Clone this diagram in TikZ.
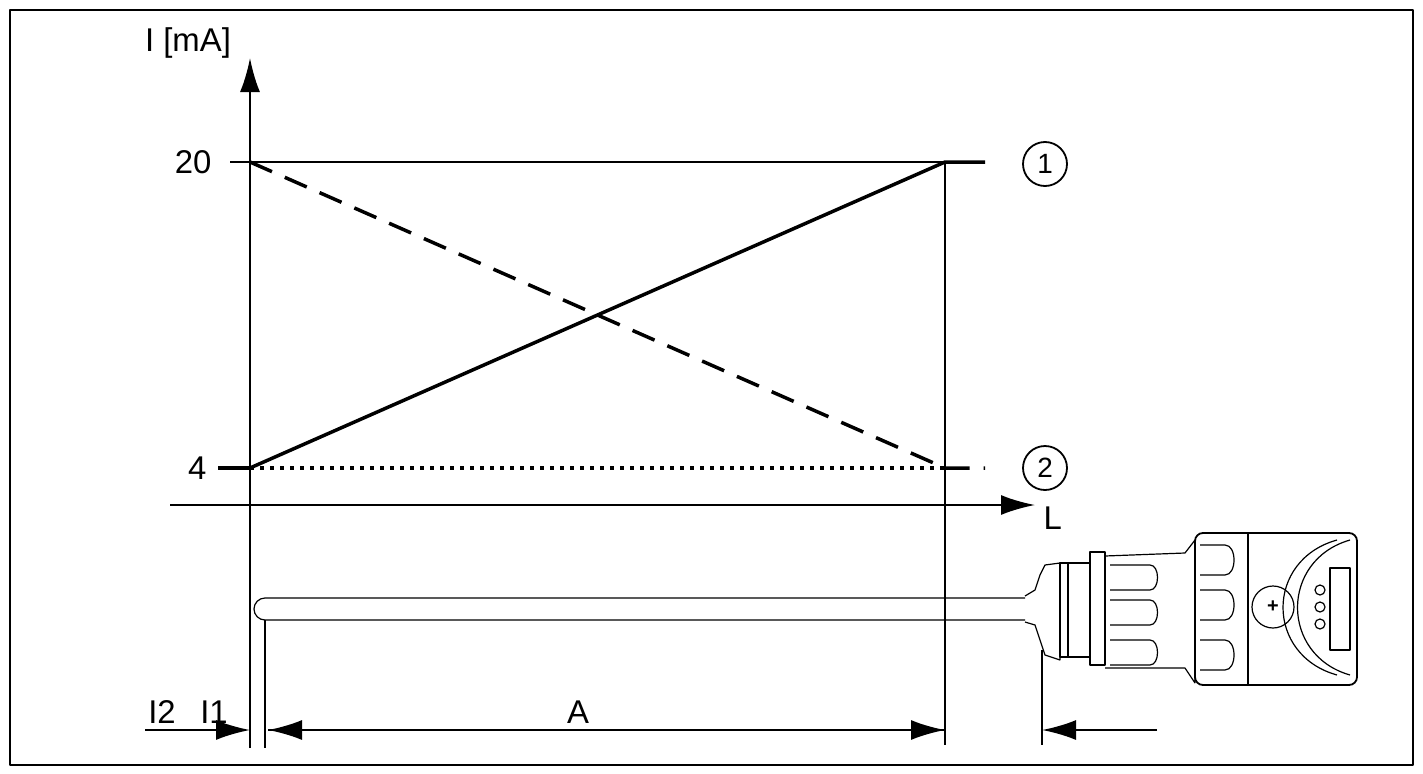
\documentclass[tikz,border=0pt]{standalone}
\usepackage{fontspec}
\setmainfont{Liberation Sans}
\usetikzlibrary{arrows,arrows.meta}
\begin{document}
\begin{tikzpicture}[x=1bp,y=-1bp,>=latex',line join=bevel,
  thin line/.style={line width=1.2bp},
  thick line/.style={line width=3.5bp},
  dim/.style={line width=2.2bp,-{Latex[length=34bp,width=20bp]}},
  lbl/.style={font=\fontsize{33}{35}\selectfont}]
\useasboundingbox (0,0) rectangle (1423,773);
\draw [line width=2bp] (10,10) rectangle (1413,765);

% Axes
\coordinate (O) at (250,505);
\coordinate (Ytop) at (250,58);
\coordinate (Xl) at (170,505);
\coordinate (Xr) at (1035,505);
\draw [dim] (250,748) -- (Ytop);
\draw [dim] (Xl) -- (Xr);
\node [lbl,anchor=south] (ylbl) at (188,62) {I [mA]};
\node [lbl,anchor=west] (xlbl) at (1040,518) {L};

% Scale
\coordinate (P20) at (250,162);
\coordinate (P4) at (250,468);
\coordinate (Q20) at (945,162);
\coordinate (Q4) at (945,468);
\draw [thin line] (230,162) -- (P20) -- (Q20);
\draw [thin line] (Q20) -- (945,745);
\node [lbl,anchor=east] (v20) at (215,162) {20};
\node [lbl,anchor=east] (v4) at (210,468) {4};
\draw [line width=4bp] (218,468) -- (P4);

% Curves
\draw [thick line] (P4) -- (Q20) -- (985,162);
\draw [thick line,dash pattern=on 24bp off 14bp] (P20) -- (Q4) -- (985,468);
\draw [line width=3.5bp,dash pattern=on 4bp off 6bp] (P4) -- (Q4);
\node [draw,circle,line width=1.8bp,minimum size=44bp,inner sep=0] (c1) at (1045,164) {\fontsize{28}{28}\selectfont 1};
\node [draw,circle,line width=1.8bp,minimum size=44bp,inner sep=0] (c2) at (1045,468) {\fontsize{28}{28}\selectfont 2};

% Sensor
\begin{scope}[thin line]
  \draw (1025,598) -- (265,598) arc (270:90:11) -- (1025,620);
  \draw [line width=2bp] (265,620) -- (265,748);
  \draw (1025,596) -- (1035,590) -- (1040,575) -- (1045,565) -- (1060,563) -- (1060,660) -- (1045,655) -- (1040,640) -- (1035,625) -- (1025,622);
  \draw [line width=2bp] (1042,650) -- (1042,745);
  \draw (1060,563) rectangle (1090,657);
  \draw (1068,563) -- (1068,657);
  \draw [line width=2bp] (1090,552) rectangle (1105,665);
  \draw (1105,556) -- (1185,553) -- (1195,540) -- (1195,683) -- (1185,668) -- (1105,668);
  \foreach \yy in {565,600,640} {
    \draw (1110,\yy) -- (1150,\yy) .. controls (1160,\yy) and (1160,\yy+25) .. (1150,\yy+25) -- (1110,\yy+25);
  }
  \draw [rounded corners=8bp,line width=1.8bp] (1195,533) rectangle (1357,685);
  \draw (1248,533) -- (1248,685);
  \foreach \yy in {545,590,640} {
    \draw (1200,\yy) -- (1225,\yy) .. controls (1237,\yy) and (1237,\yy+30) .. (1225,\yy+30) -- (1200,\yy+30);
  }
  \node [draw,circle,minimum size=42bp,inner sep=0] (screw) at (1273,607) {\fontsize{20}{20}\selectfont\textbf{+}};
  \draw (1350,540) .. controls (1280,560) and (1280,655) .. (1350,675);
  \draw (1337,540) .. controls (1265,560) and (1265,655) .. (1337,675);
  \foreach \yy in {590,607,624} { \draw (1320,\yy) circle (5); }
  \draw (1330,568) rectangle (1350,650);
\end{scope}

% Dimensions
\draw [dim] (145,730) -- (250,730);
\draw [dim] (945,730) -- (268,730);
\draw [dim] (268,730) -- (945,730);
\draw [dim] (1157,730) -- (1042,730);
\node [lbl] (i2) at (162,712) {I2};
\node [lbl] (i1) at (214,712) {I1};
\node [lbl] (a) at (578,712) {A};
\end{tikzpicture}
\end{document}
